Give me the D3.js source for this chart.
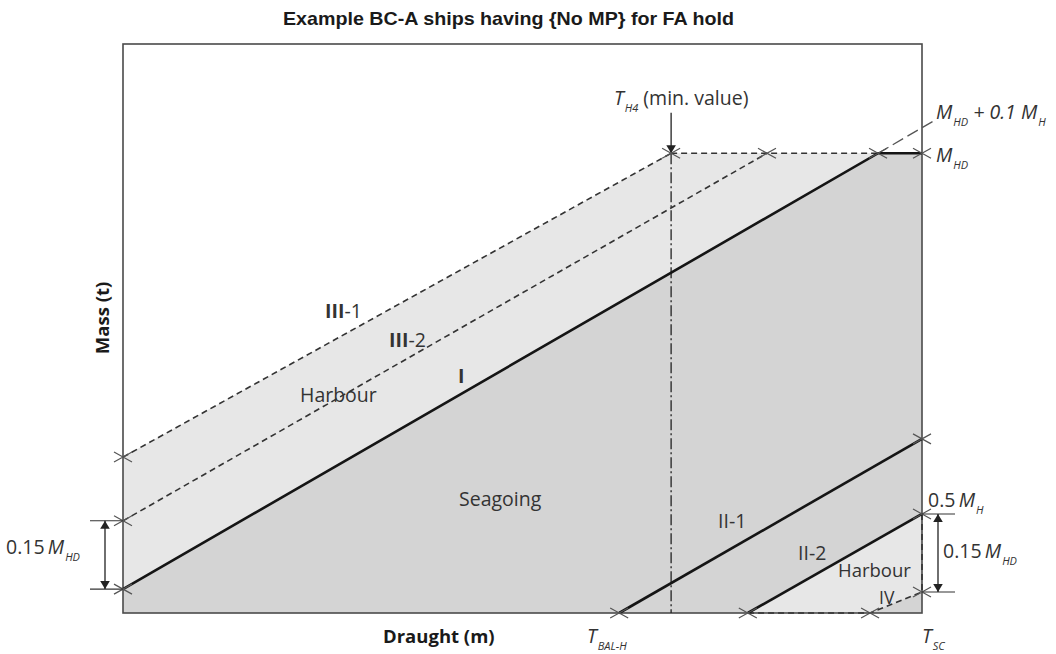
<!DOCTYPE html>
<html><head><meta charset="utf-8">
<script src="https://cdn.jsdelivr.net/npm/d3@7"></script>
<style>
html,body{margin:0;padding:0;background:#fff;}
svg{display:block;}
text{font-family:"Open Sans","DejaVu Sans",sans-serif;fill:#333;}
</style></head>
<body><svg id="c" width="1056" height="654"></svg>
<script>
// ---- data (schematic units: draught 0-100, mass 0-100) ----
const title = "Example BC-A ships having {No MP} for FA hold";
const xLabel = "Draught (m)";
const yLabel = "Mass (t)";
const lineI    = [[0,4.2],[94.5,80.8],[100,80.8]];
const lineIII1 = [[0,27.4],[68.6,80.8]];
const lineIII2 = [[0,16.2],[80.6,80.8]];
const topDash  = [[68.6,80.8],[94.5,80.8]];
const extDash  = [[94.5,80.8],[101.6,86.6]];
const lineII1  = [[62.1,0],[100,30.6]];
const lineII2  = [[78.2,0],[100,17.4]];
const lineIV   = [[100,17.4],[100,3.7],[93.5,0],[78.2,0]];
const tH4 = 68.6, tH4Top = 87.9;
const crosses = [[0,27.4],[0,16.2],[0,4.2],[68.6,80.8],[80.6,80.8],[94.5,80.8],[100,80.8],
                 [100,30.6],[100,17.4],[100,3.7],[62.1,0],[78.2,0],[93.5,0]];
const dimLeft  = [16.2, 4.2];
const dimRight = [17.4, 3.7];

const svg = d3.select("#c");
const x = d3.scaleLinear().domain([0,100]).range([123,922]);
const y = d3.scaleLinear().domain([0,100]).range([613,44]);
const L = d3.line().x(d=>x(d[0])).y(d=>y(d[1]));

// defs
const defs = svg.append("defs");
defs.append("marker").attr("id","ah").attr("viewBox","0 0 10 16").attr("refX",10).attr("refY",8)
  .attr("markerWidth",8).attr("markerHeight",13).attr("markerUnits","userSpaceOnUse").attr("orient","auto-start-reverse")
  .append("path").attr("d","M0,2 L10,8 L0,14 Z").attr("fill","#222");

// fills
svg.append("path").attr("d", L([[0,0],...lineI,[100,0]])+"Z").attr("fill","#d4d4d4");
svg.append("path").attr("d", L([lineIII1[0],lineIII1[1],topDash[1],lineI[0]])+"Z").attr("fill","#e7e7e7");
svg.append("path").attr("d", L([lineII2[0],lineII2[1],...lineIV.slice(1)])+"Z").attr("fill","#e7e7e7");

// frame
svg.append("rect").attr("x",x(0)).attr("y",y(100)).attr("width",x(100)-x(0)).attr("height",y(0)-y(100))
  .attr("fill","none").attr("stroke","#4a4a4a").attr("stroke-width",1.6);

// dash-dot T_H4
svg.append("line").attr("x1",x(tH4)).attr("x2",x(tH4)).attr("y1",y(80.8)).attr("y2",y(0))
  .attr("stroke","#222").attr("stroke-width",1.3).attr("stroke-dasharray","11,3,2,3");
svg.append("line").attr("x1",x(tH4)).attr("x2",x(tH4)).attr("y1",y(tH4Top)).attr("y2",y(80.8))
  .attr("stroke","#222").attr("stroke-width",1.3).attr("marker-end","url(#ah)");

// dashed lines
const dashed = (d,w)=>svg.append("path").attr("d",L(d)).attr("fill","none").attr("stroke","#333")
  .attr("stroke-width",w||1.6).attr("stroke-dasharray","6,4");
dashed(lineIII1); dashed(lineIII2); dashed(topDash); dashed(lineIV);
svg.append("path").attr("d",L(extDash)).attr("fill","none").attr("stroke","#555").attr("stroke-width",1.3).attr("stroke-dasharray","12,5");

// solid lines
const solid = d=>svg.append("path").attr("d",L(d)).attr("fill","none").attr("stroke","#151515").attr("stroke-width",2.6);
solid(lineI); solid(lineII1); solid(lineII2);

// crosses
svg.selectAll("path.cr").data(crosses).join("path").attr("class","cr")
  .attr("d",d=>{const cx=x(d[0]),cy=y(d[1]);return `M${cx-9},${cy-5}L${cx+9},${cy+5}M${cx-9},${cy+5}L${cx+9},${cy-5}`;})
  .attr("stroke","#555").attr("stroke-width",1.2).attr("fill","none");

// dimension lines
function dim(xa, xt1, xt2, vals){
  vals.forEach(v=>svg.append("line").attr("x1",xt1).attr("x2",xt2).attr("y1",y(v)).attr("y2",y(v)).attr("stroke","#333").attr("stroke-width",1.1));
  svg.append("line").attr("x1",xa).attr("x2",xa).attr("y1",y(vals[0])).attr("y2",y(vals[1]))
    .attr("stroke","#222").attr("stroke-width",1.3).attr("marker-start","url(#ah)").attr("marker-end","url(#ah)");
}
dim(105, 90, x(0), dimLeft);
dim(938, x(100), 955, dimRight);

// text helper
function label(px, py, parts, size){
  size = size||19.5;
  const t = svg.append("text").attr("x",px).attr("y",py).attr("font-size",size);
  let down=false;
  parts.forEach(p=>{
    const s = t.append("tspan").text(p[0]);
    if(p[1]==="i") s.attr("font-style","italic");
    if(p[1]==="b") s.attr("font-weight","bold");
    if(p[1]==="s"){ s.attr("font-style","italic").attr("font-size",11).attr("dy",7).attr("dx",1); down=true; }
    else if(down){ s.attr("dy",-7); down=false; }
  });
  return t;
}
// title
svg.append("text").attr("x",283).attr("y",25).attr("font-size",18.5).attr("font-weight","bold")
  .attr("textLength",451).attr("lengthAdjust","spacingAndGlyphs")
  .style("font-family","'Liberation Sans',Arial,sans-serif").style("fill","#1a1a1a").text(title);
// axis labels
svg.append("text").attr("x",383).attr("y",643).attr("font-size",18.5).attr("font-weight","bold").style("fill","#1a1a1a").text(xLabel);
svg.append("text").attr("transform","translate(109,318) rotate(-90)").attr("text-anchor","middle")
  .attr("font-size",18.5).attr("font-weight","bold").style("fill","#1a1a1a").text(yLabel);

// annotations
label(614,105,[["T","i"],["H4","s"],[" (min. value)","n"]]);
label(936,119,[["M","i"],["HD","s"],[" + 0.1 ","i"],["M","i"],["H","s"]]);
label(936,162,[["M","i"],["HD","s"]]);
label(6,554,[["0.15\u2009","n"],["M","i"],["HD","s"]]);
label(943,558,[["0.15\u2009","n"],["M","i"],["HD","s"]]);
label(928,507,[["0.5\u2009","n"],["M","i"],["H","s"]]);
label(587,643,[["T","i"],["BAL-H","s"]]);
label(922,643,[["T","i"],["SC","s"]]);

label(325,318,[["III","b"],["-1","n"]]);
label(389,347,[["III","b"],["-2","n"]]);
label(458,383,[["I","b"]]);
label(300,402,[["Harbour","n"]]);
label(459,506,[["Seagoing","n"]]);
label(718,528,[["II-1","n"]]);
label(798,560,[["II-2","n"]]);
label(838,577,[["Harbour","n"]],18.5);
label(879,604,[["IV","n"]],17.5);
</script></body></html>
